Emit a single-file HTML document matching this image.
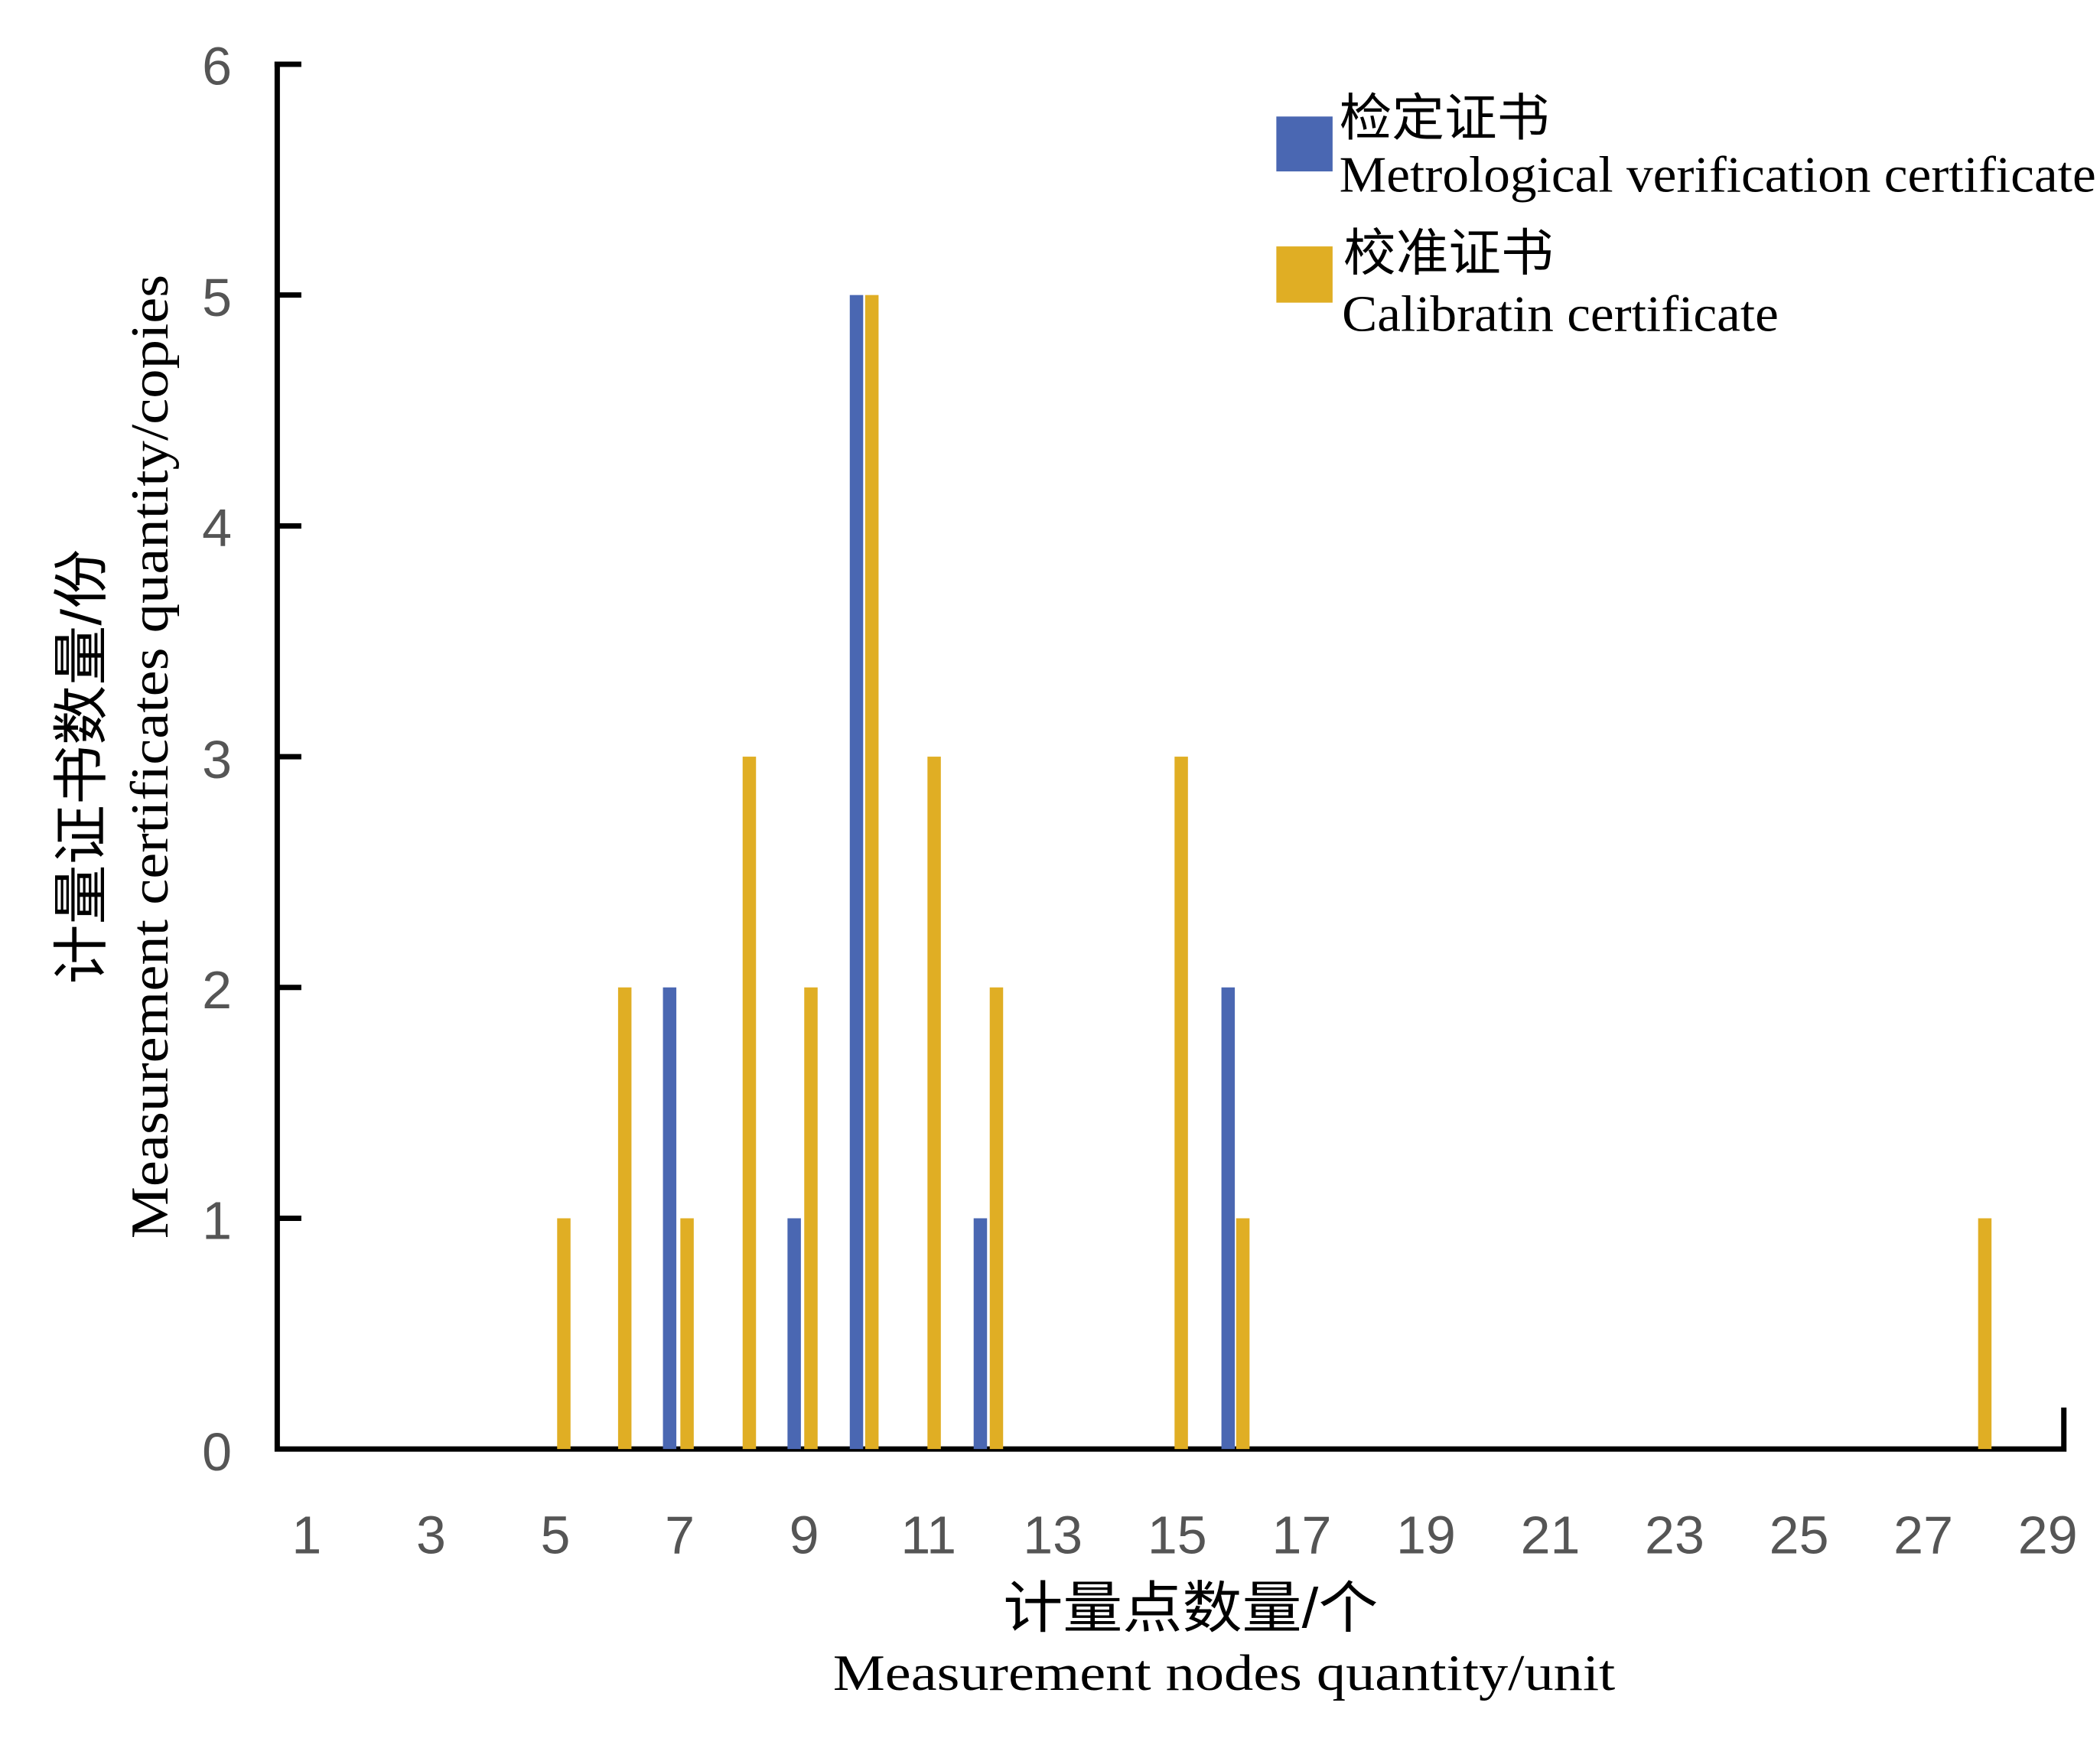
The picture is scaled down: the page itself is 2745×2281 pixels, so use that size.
<!DOCTYPE html>
<html><head><meta charset="utf-8"><style>
html,body{margin:0;padding:0;background:#fff;}
svg{display:block;}
.t{font-family:"Liberation Sans","DejaVu Sans",sans-serif;fill:#555;font-size:40px;}
.s{font-family:"Liberation Serif",serif;fill:#000;}
.c{font-family:"Liberation Sans","Noto Sans CJK SC",sans-serif;fill:#000;}
</style></head><body>
<svg width="2745" height="2281" viewBox="0 0 1568 1303" preserveAspectRatio="none" xmlns="http://www.w3.org/2000/svg">
<rect width="1568" height="1303" fill="#fff"/>
<g stroke="#000" stroke-width="4" fill="none">
<path d="M207 46 V1082 H1541 V1051"/>
<path d="M205 48 H225 M207 220.3 H225 M207 392.7 H225 M207 565 H225 M207 737.3 H225 M207 909.7 H225"/>
</g>
<g class="t" text-anchor="middle">
<text x="162" y="63">6</text><text x="162" y="236">5</text><text x="162" y="408">4</text>
<text x="162" y="581">3</text><text x="162" y="753">2</text><text x="162" y="925">1</text><text x="162" y="1098">0</text>
<text x="229" y="1160">1</text><text x="321.9" y="1160">3</text><text x="414.7" y="1160">5</text>
<text x="507.6" y="1160">7</text><text x="600.4" y="1160">9</text><text x="693.3" y="1160">11</text>
<text x="786.1" y="1160">13</text><text x="879" y="1160">15</text><text x="971.9" y="1160">17</text>
<text x="1064.7" y="1160">19</text><text x="1157.6" y="1160">21</text><text x="1250.4" y="1160">23</text>
<text x="1343.3" y="1160">25</text><text x="1436.1" y="1160">27</text><text x="1529" y="1160">29</text>
</g>
<g fill="#4a67b2">
<rect x="495" y="737.3" width="10" height="344.7"/>
<rect x="588" y="909.7" width="10" height="172.3"/>
<rect x="634.5" y="220.3" width="10" height="861.7"/>
<rect x="727" y="909.7" width="10" height="172.3"/>
<rect x="912" y="737.3" width="10" height="344.7"/>
<rect x="953" y="87" width="42" height="41"/>
</g>
<g fill="#e0ae24">
<rect x="416" y="909.7" width="10" height="172.3"/>
<rect x="461.5" y="737.3" width="10" height="344.7"/>
<rect x="508" y="909.7" width="10" height="172.3"/>
<rect x="554.5" y="565" width="10" height="517"/>
<rect x="600.5" y="737.3" width="10" height="344.7"/>
<rect x="646" y="220.3" width="10" height="861.7"/>
<rect x="692.5" y="565" width="10" height="517"/>
<rect x="739" y="737.3" width="10" height="344.7"/>
<rect x="877" y="565" width="10" height="517"/>
<rect x="923" y="909.7" width="10" height="172.3"/>
<rect x="1477" y="909.7" width="10" height="172.3"/>
<rect x="953" y="184" width="42" height="42"/>
</g>
<text class="c" x="1000" y="101" font-size="38" textLength="157" lengthAdjust="spacingAndGlyphs">检定证书</text>
<text class="s" x="1000" y="143" font-size="38" textLength="565" lengthAdjust="spacingAndGlyphs">Metrological verification certificate</text>
<text class="c" x="1003" y="202" font-size="38" textLength="157" lengthAdjust="spacingAndGlyphs">校准证书</text>
<text class="s" x="1002" y="247" font-size="38" textLength="326" lengthAdjust="spacingAndGlyphs">Calibratin certificate</text>
<text class="c" x="749" y="1215" font-size="42" textLength="280" lengthAdjust="spacingAndGlyphs">计量点数量/个</text>
<text class="s" x="622" y="1262" font-size="38" textLength="584" lengthAdjust="spacingAndGlyphs">Measurement nodes quantity/unit</text>
<g transform="translate(75,735) rotate(-90)">
<text class="c" x="0" y="0" font-size="42" textLength="325" lengthAdjust="spacingAndGlyphs">计量证书数量/份</text>
</g>
<g transform="translate(125,925) rotate(-90)">
<text class="s" x="0" y="0" font-size="40" textLength="720" lengthAdjust="spacingAndGlyphs">Measurement certificates quantity/copies</text>
</g>
</svg>
</body></html>
